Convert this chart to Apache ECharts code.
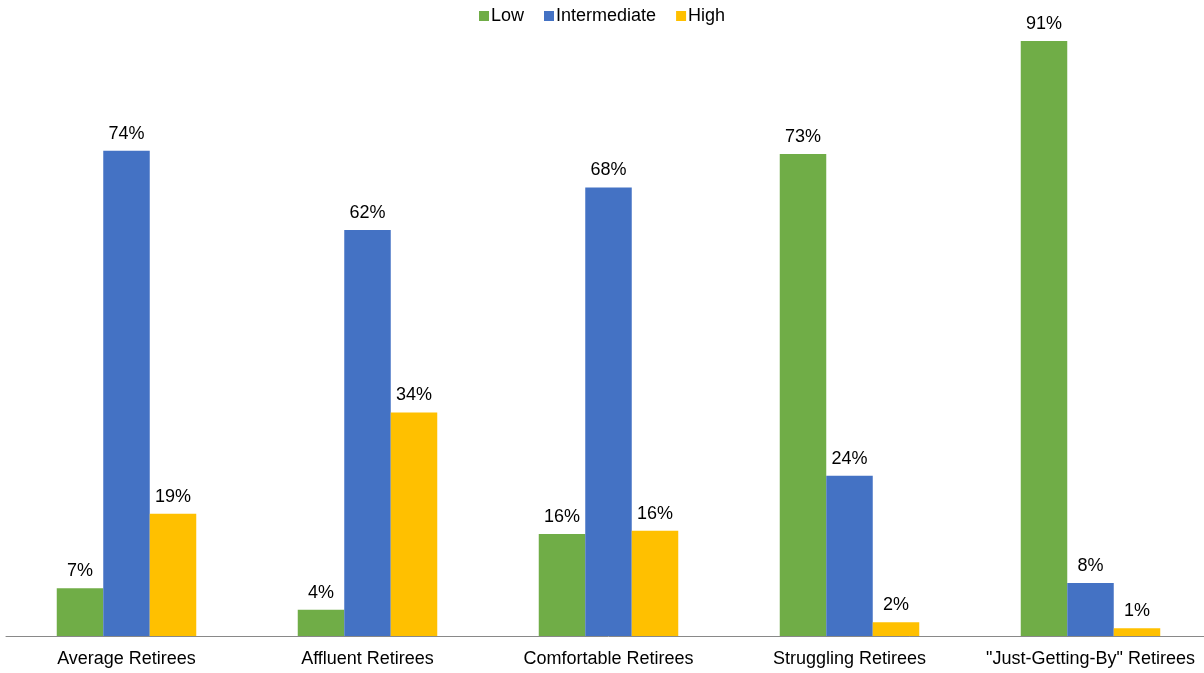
<!DOCTYPE html>
<html>
<head>
<meta charset="utf-8">
<script src="https://cdn.jsdelivr.net/npm/echarts@6/dist/echarts.min.js"></script>
<style>
  html, body { margin: 0; padding: 0; background: #fff; overflow: hidden; }
  #chart { width: 1211px; height: 673px; }
</style>
</head>
<body>
<div id="chart"></div>
<script>
// categories
const categories = ['Average Retirees', 'Affluent Retirees', 'Comfortable Retirees', 'Struggling Retirees', '"Just-Getting-By" Retirees']
// bar heights (percent)
const lowValues = [7.3, 4.0, 15.6, 73.7, 91.0]
const intermediateValues = [74.2, 62.1, 68.6, 24.5, 8.1]
const highValues = [18.7, 34.2, 16.1, 2.1, 1.2]
// label text printed above each bar
const lowLabels = ['7%', '4%', '16%', '73%', '91%']
const intermediateLabels = ['74%', '62%', '68%', '24%', '8%']
const highLabels = ['19%', '34%', '16%', '2%', '1%']

const colorList = ['#70AD47', '#4472C4', '#FFC000']
const fontFamily = '"Liberation Sans", Arial, sans-serif'

function makeSeries(name, values, labels, color) {
  return {
    name: name,
    type: 'bar',
    barWidth: 46.5,
    barGap: '0%',
    itemStyle: { color: color },
    label: {
      show: true,
      position: 'top',
      distance: 8,
      color: '#000',
      fontSize: 18,
      fontFamily: fontFamily,
      formatter: function (p) { return labels[p.dataIndex] }
    },
    data: values
  }
}

let myChart = echarts.init(document.getElementById('chart'))
myChart.setOption({
  animation: false,
  textStyle: { fontFamily: fontFamily },
  legend: {
    top: 2,
    left: 474,
    icon: 'rect',
    itemWidth: 10,
    itemHeight: 10,
    itemGap: 20,
    textStyle: { color: '#000', fontSize: 18, fontFamily: fontFamily, padding: [0, 0, 0, -3] },
    data: ['Low', 'Intermediate', 'High']
  },
  grid: {
    top: 41,
    left: 6,
    right: 0,
    bottom: 37,
    containLabel: false
  },
  xAxis: {
    type: 'category',
    data: categories,
    axisTick: { show: false },
    axisLine: { lineStyle: { color: '#898989', width: 1 } },
    axisLabel: { color: '#000', fontSize: 18, margin: 14, interval: 0, fontFamily: fontFamily }
  },
  yAxis: {
    type: 'value',
    min: 0,
    max: 91,
    show: false,
    splitLine: { show: false }
  },
  series: [
    makeSeries('Low', lowValues, lowLabels, colorList[0]),
    makeSeries('Intermediate', intermediateValues, intermediateLabels, colorList[1]),
    makeSeries('High', highValues, highLabels, colorList[2])
  ]
})
</script>
</body>
</html>
